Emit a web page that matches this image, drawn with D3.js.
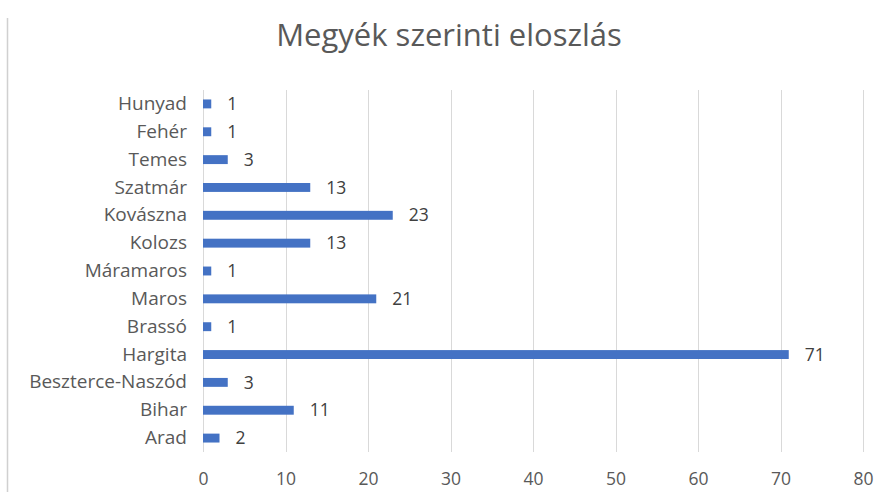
<!DOCTYPE html>
<html>
<head>
<meta charset="utf-8">
<script src="https://cdn.jsdelivr.net/npm/d3@7"></script>
<style>
  body { margin: 0; background: #fff; }
  svg { display: block; font-family: "Open Sans", "Liberation Sans", sans-serif; }
</style>
</head>
<body>
<script>
// chart data, top to bottom as drawn
var counties = ["Hunyad", "Fehér", "Temes", "Szatmár", "Kovászna", "Kolozs", "Máramaros",
                "Maros", "Brassó", "Hargita", "Beszterce-Naszód", "Bihar", "Arad"];
var counts = [1, 1, 3, 13, 23, 13, 1, 21, 1, 71, 3, 11, 2];
var xTicks = [0, 10, 20, 30, 40, 50, 60, 70, 80];
var title = "Megyék szerinti eloszlás";

var w = 881, h = 492;
var textColor = "#595959";

var svg = d3.select("body").append("svg")
    .attr("width", w)
    .attr("height", h);

// frame line on the left edge
svg.append("line")
    .attr("x1", 7.5).attr("x2", 7.5)
    .attr("y1", 18).attr("y2", h)
    .style("stroke", "#d0d0d0")
    .style("stroke-width", 1.5);

// scales
var x = d3.scaleLinear()
    .domain([0, 80])
    .range([203, 863]);

var y = d3.scaleBand()
    .domain(counties)
    .range([90, 452])
    .paddingInner(0.68)
    .paddingOuter(0.34);

// gridlines
svg.append("g")
    .selectAll("line")
    .data(xTicks)
    .enter()
        .append("line")
        .attr("x1", function(d) { return Math.round(x(d)) + 0.5; })
        .attr("x2", function(d) { return Math.round(x(d)) + 0.5; })
        .attr("y1", 90)
        .attr("y2", 452)
        .style("stroke", "#d9d9d9")
        .style("stroke-width", 1);

// x axis (labels only)
var xAxis = d3.axisBottom(x).tickValues(xTicks).tickSize(0).tickPadding(0);
var gx = svg.append("g")
    .attr("transform", "translate(0,473)")
    .call(xAxis);
gx.select(".domain").remove();
gx.selectAll("text")
    .style("font-family", "'Open Sans', sans-serif")
    .style("font-size", "17.5px")
    .style("fill", textColor);

// y axis (labels only)
var yAxis = d3.axisLeft(y).tickSize(0).tickPadding(0);
var gy = svg.append("g")
    .attr("transform", "translate(187,0)")
    .call(yAxis);
gy.select(".domain").remove();
gy.selectAll("text")
    .style("font-family", "'Open Sans', sans-serif")
    .style("font-size", "19px")
    .style("fill", textColor);

// bars
svg.selectAll(".bar")
    .data(counties)
    .enter()
        .append("rect")
        .classed("bar", true)
        .attr("x", x(0))
        .attr("y", function(d) { return y(d); })
        .attr("width", function(d, i) { return x(counts[i]) - x(0); })
        .attr("height", y.bandwidth())
        .style("fill", "#4472c4");

// value labels
svg.selectAll(".val")
    .data(counties)
    .enter()
        .append("text")
        .classed("val", true)
        .attr("x", function(d, i) { return x(counts[i]) + 16; })
        .attr("y", function(d) { return y(d) + y.bandwidth() / 2; })
        .attr("dy", "0.35em")
        .style("font-size", "17.5px")
        .style("fill", "#404040")
        .text(function(d, i) { return counts[i]; });

// title
svg.append("text")
    .attr("x", 449)
    .attr("y", 46)
    .style("text-anchor", "middle")
    .style("font-size", "31px")
    .style("fill", textColor)
    .text(title);
</script>
</body>
</html>
